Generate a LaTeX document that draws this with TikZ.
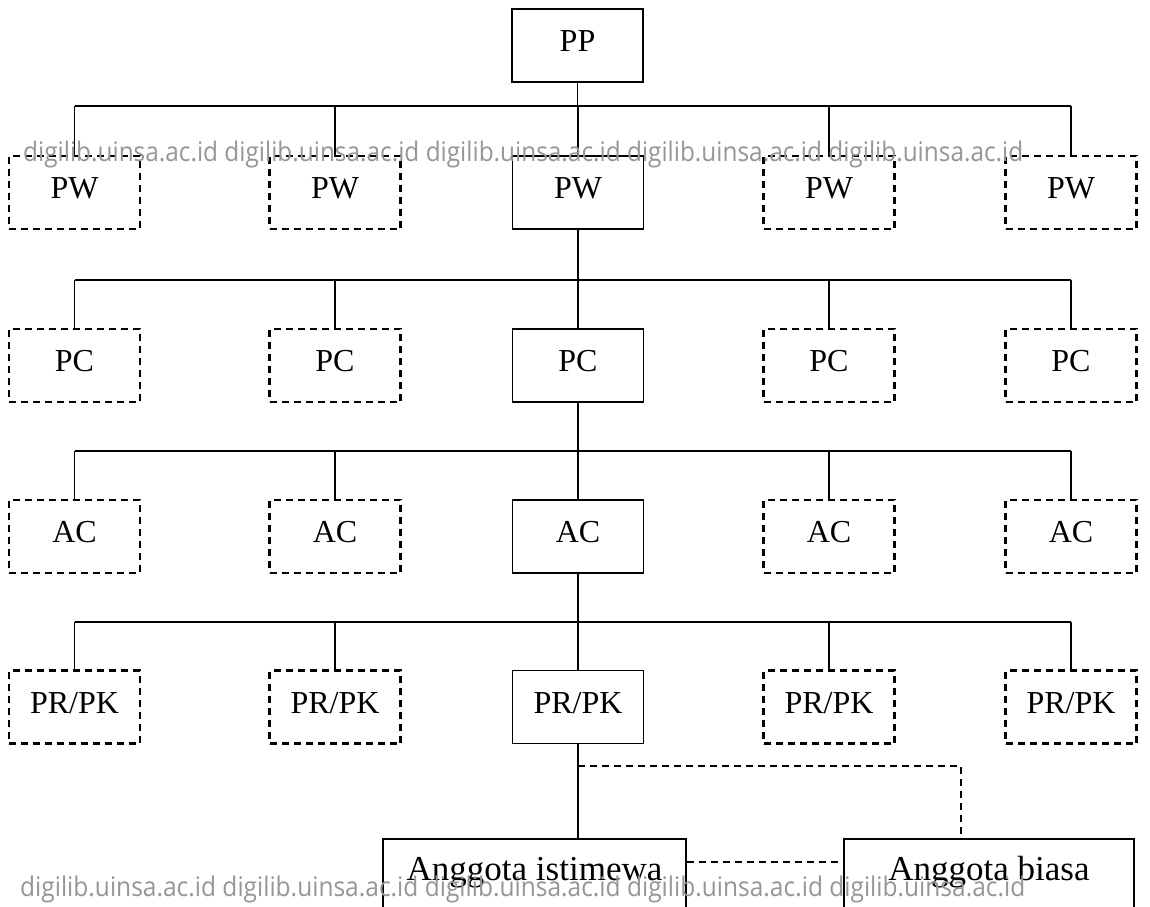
\documentclass[tikz,border=0pt]{standalone}
\usepackage{fontspec}
\setmainfont{Liberation Serif}
\newfontfamily\wmfont{Open Sans}
\definecolor{wmgray}{RGB}{150,150,150}
\begin{document}
\begin{tikzpicture}[x=1pt,y=-1pt,
  box/.style={draw, line width=1.8pt, minimum width=131pt, minimum height=73pt,
    inner sep=0pt, font=\fontsize{32}{38}\selectfont, text height=22pt, text depth=10pt},
  dbox/.style={box, line width=2.1pt, dash pattern=on 7pt off 5pt},
  abox/.style={draw, line width=1.8pt, minimum height=91pt, inner sep=0pt,
    font=\fontsize{35}{42}\selectfont, text height=25pt, text depth=34pt},
  conn/.style={line width=1.7pt},
  dconn/.style={line width=1.9pt, dash pattern=on 7pt off 5pt},
  wm/.style={inner sep=0pt, text=wmgray, font=\wmfont\fontsize{27}{32}\selectfont}]
\useasboundingbox (0,0) rectangle (1150,906);
\clip (0,0) rectangle (1150,906);
\fill[white] (0,0) rectangle (1150,906);

\coordinate (h1) at (0,106);
\coordinate (h2) at (0,280);
\coordinate (h3) at (0,451);
\coordinate (h4) at (0,622);
\coordinate (hd) at (0,766);
\coordinate (dv) at (961,0);

\node[box] (pp) at (577.5,45.5) {PP};
\foreach \i/\x/\s in {1/74.5/dbox,2/335/dbox,3/578/box,4/829/dbox,5/1071/dbox}{
  \node[\s] (pw\i) at (\x,192.5) {PW};
  \node[\s] (pc\i) at (\x,365.5) {PC};
  \node[\s] (ac\i) at (\x,536.5) {AC};
  \node[\s] (pr\i) at (\x,707) {PR/PK};
}

\node[abox, minimum width=303pt] (ai) at (534.5,884.5) {Anggota istimewa};
\node[abox, minimum width=290pt] (ab) at (989,884.5) {Anggota biasa};

% level connectors
\draw[conn] (pp.south) -- (pp.south |- h1);
\draw[conn] (pw1.north |- h1) -- (pw5.north |- h1);
\draw[conn] (pw3.south) -- (pw3.south |- h2);
\draw[conn] (pc1.north |- h2) -- (pc5.north |- h2);
\draw[conn] (pc3.south) -- (pc3.south |- h3);
\draw[conn] (ac1.north |- h3) -- (ac5.north |- h3);
\draw[conn] (ac3.south) -- (ac3.south |- h4);
\draw[conn] (pr1.north |- h4) -- (pr5.north |- h4);
\foreach \i in {1,...,5}{
  \draw[conn] (pw\i.north |- h1) -- (pw\i.north);
  \draw[conn] (pc\i.north |- h2) -- (pc\i.north);
  \draw[conn] (ac\i.north |- h3) -- (ac\i.north);
  \draw[conn] (pr\i.north |- h4) -- (pr\i.north);
}

% members
\draw[conn] (pr3.south) -- (pr3.south |- ai.north);
\draw[dconn] (pr3.south |- hd) -| (dv |- ab.north);
\draw[dconn] ([yshift=-24pt]ai.north east) -- ([yshift=-24pt]ab.north west);

% watermark
\node[wm, anchor=base west] (wm1) at (23,161)
  {\resizebox{1000pt}{\height}{digilib.uinsa.ac.id digilib.uinsa.ac.id digilib.uinsa.ac.id digilib.uinsa.ac.id digilib.uinsa.ac.id}};
\node[wm, anchor=base west] (wm2) at (20,896)
  {\resizebox{1005pt}{\height}{digilib.uinsa.ac.id digilib.uinsa.ac.id digilib.uinsa.ac.id digilib.uinsa.ac.id digilib.uinsa.ac.id}};
\end{tikzpicture}
\end{document}
